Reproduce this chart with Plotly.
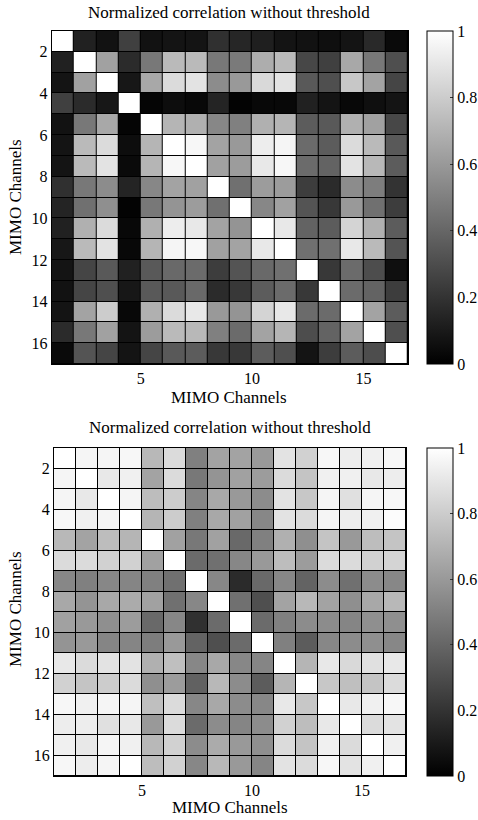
import plotly.graph_objects as go

# ---------------- data ----------------
channels = list(range(1, 17))
x_ticks = [5, 10, 15]
y_ticks = [2, 4, 6, 8, 10, 12, 14, 16]
cbar_ticks = [0, 0.2, 0.4, 0.6, 0.8, 1]
cbar_labels = ["0", "0.2", "0.4", "0.6", "0.8", "1"]
title_text = "Normalized correlation without threshold"
axis_label = "MIMO Channels"

corr_top = [
    [1.00, 0.13, 0.07, 0.25, 0.07, 0.08, 0.08, 0.19, 0.15, 0.12, 0.08, 0.07, 0.06, 0.08, 0.16, 0.04],
    [0.13, 1.00, 0.63, 0.17, 0.47, 0.73, 0.73, 0.47, 0.48, 0.68, 0.73, 0.28, 0.25, 0.66, 0.47, 0.31],
    [0.08, 0.63, 1.00, 0.09, 0.66, 0.86, 0.89, 0.55, 0.60, 0.85, 0.89, 0.35, 0.31, 0.78, 0.64, 0.27],
    [0.25, 0.17, 0.09, 1.00, 0.02, 0.05, 0.03, 0.14, 0.01, 0.03, 0.03, 0.13, 0.08, 0.03, 0.06, 0.08],
    [0.07, 0.47, 0.66, 0.02, 1.00, 0.71, 0.69, 0.53, 0.50, 0.69, 0.71, 0.36, 0.35, 0.69, 0.63, 0.28],
    [0.08, 0.73, 0.86, 0.05, 0.71, 1.00, 0.97, 0.64, 0.60, 0.93, 0.96, 0.42, 0.36, 0.86, 0.73, 0.35],
    [0.08, 0.73, 0.89, 0.04, 0.71, 0.97, 1.00, 0.63, 0.61, 0.91, 0.97, 0.42, 0.39, 0.89, 0.72, 0.36],
    [0.19, 0.47, 0.55, 0.14, 0.53, 0.64, 0.63, 1.00, 0.44, 0.61, 0.61, 0.24, 0.17, 0.55, 0.49, 0.20],
    [0.14, 0.44, 0.56, 0.01, 0.47, 0.58, 0.61, 0.44, 1.00, 0.53, 0.63, 0.33, 0.22, 0.60, 0.44, 0.24],
    [0.13, 0.69, 0.86, 0.03, 0.69, 0.93, 0.91, 0.64, 0.58, 1.00, 0.91, 0.39, 0.36, 0.83, 0.69, 0.36],
    [0.09, 0.73, 0.89, 0.03, 0.71, 0.96, 0.97, 0.63, 0.64, 0.91, 1.00, 0.44, 0.44, 0.91, 0.73, 0.33],
    [0.08, 0.27, 0.35, 0.13, 0.35, 0.41, 0.42, 0.24, 0.33, 0.41, 0.44, 1.00, 0.22, 0.42, 0.30, 0.06],
    [0.07, 0.27, 0.31, 0.09, 0.35, 0.35, 0.41, 0.17, 0.22, 0.36, 0.42, 0.22, 1.00, 0.42, 0.39, 0.24],
    [0.08, 0.64, 0.80, 0.03, 0.69, 0.86, 0.91, 0.60, 0.58, 0.83, 0.91, 0.42, 0.42, 1.00, 0.64, 0.36],
    [0.17, 0.47, 0.63, 0.08, 0.61, 0.73, 0.72, 0.50, 0.42, 0.64, 0.71, 0.30, 0.39, 0.64, 1.00, 0.31],
    [0.04, 0.33, 0.27, 0.08, 0.27, 0.35, 0.36, 0.22, 0.22, 0.36, 0.31, 0.08, 0.24, 0.36, 0.30, 1.00],
]

corr_bottom = [
    [1.00, 0.96, 0.96, 0.97, 0.72, 0.86, 0.50, 0.64, 0.64, 0.60, 0.89, 0.82, 0.97, 0.93, 0.94, 0.97],
    [0.96, 1.00, 0.91, 0.94, 0.64, 0.86, 0.47, 0.58, 0.63, 0.61, 0.86, 0.77, 0.94, 0.94, 0.91, 0.93],
    [0.96, 0.91, 1.00, 0.96, 0.74, 0.80, 0.52, 0.66, 0.60, 0.55, 0.89, 0.78, 0.96, 0.88, 0.96, 0.97],
    [0.97, 0.94, 0.96, 1.00, 0.71, 0.80, 0.50, 0.66, 0.63, 0.53, 0.89, 0.86, 0.96, 0.93, 0.94, 0.99],
    [0.72, 0.64, 0.74, 0.71, 1.00, 0.63, 0.47, 0.63, 0.41, 0.50, 0.69, 0.56, 0.77, 0.60, 0.74, 0.77],
    [0.86, 0.86, 0.82, 0.82, 0.63, 1.00, 0.42, 0.44, 0.53, 0.60, 0.74, 0.61, 0.86, 0.86, 0.82, 0.83],
    [0.53, 0.50, 0.53, 0.52, 0.50, 0.44, 1.00, 0.53, 0.17, 0.41, 0.53, 0.39, 0.55, 0.44, 0.55, 0.53],
    [0.66, 0.58, 0.66, 0.67, 0.63, 0.44, 0.53, 1.00, 0.44, 0.31, 0.64, 0.72, 0.64, 0.56, 0.66, 0.72],
    [0.63, 0.60, 0.56, 0.61, 0.41, 0.53, 0.19, 0.42, 1.00, 0.42, 0.50, 0.55, 0.55, 0.52, 0.56, 0.56],
    [0.58, 0.60, 0.52, 0.52, 0.49, 0.60, 0.39, 0.31, 0.42, 1.00, 0.50, 0.36, 0.53, 0.55, 0.56, 0.53],
    [0.91, 0.86, 0.89, 0.89, 0.69, 0.75, 0.53, 0.66, 0.53, 0.52, 1.00, 0.71, 0.91, 0.85, 0.88, 0.91],
    [0.82, 0.77, 0.80, 0.86, 0.56, 0.61, 0.38, 0.72, 0.55, 0.36, 0.71, 1.00, 0.78, 0.75, 0.77, 0.86],
    [0.97, 0.94, 0.96, 0.96, 0.75, 0.86, 0.53, 0.66, 0.55, 0.53, 0.91, 0.78, 1.00, 0.91, 0.94, 0.97],
    [0.93, 0.93, 0.88, 0.91, 0.60, 0.86, 0.42, 0.55, 0.52, 0.55, 0.82, 0.74, 0.91, 1.00, 0.86, 0.89],
    [0.94, 0.91, 0.96, 0.94, 0.72, 0.82, 0.55, 0.67, 0.60, 0.56, 0.86, 0.77, 0.94, 0.86, 1.00, 0.94],
    [0.97, 0.93, 0.96, 1.00, 0.74, 0.82, 0.53, 0.72, 0.60, 0.52, 0.89, 0.86, 0.97, 0.89, 0.94, 1.00],
]

# ---------------- figure ----------------
W, H = 478, 820
FONT = "Liberation Serif, Times New Roman, serif"
TICK_SIZE = 16
LABEL_SIZE = 17
TITLE_SIZE = 17

def px(x):
    return x / W

def py(y):
    return 1 - y / H

# cells drawn like pcolor: cell i spans [i, i+1]
centers = [c + 0.5 for c in channels]

def cbar(top, bottom):
    return dict(
        x=px(427), xanchor="left", xref="paper",
        y=py((top + bottom) / 2), yanchor="middle", yref="paper",
        len=(bottom - top) / H, lenmode="fraction",
        thickness=26, thicknessmode="pixels",
        outlinewidth=1, outlinecolor="black",
        tickmode="array", tickvals=cbar_ticks, ticktext=cbar_labels,
        ticks="inside", ticklen=3, tickcolor="#333333",
        tickfont=dict(family=FONT, size=TICK_SIZE, color="black"),
        xpad=0, ypad=0,
    )

gray = [[0, "black"], [1, "white"]]

fig = go.Figure()
fig.add_trace(go.Heatmap(
    z=corr_top, x=centers, y=centers, xaxis="x", yaxis="y",
    colorscale=gray, zmin=0, zmax=1, xgap=1, ygap=1,
    colorbar=cbar(31, 364),
))
fig.add_trace(go.Heatmap(
    z=corr_bottom, x=centers, y=centers, xaxis="x2", yaxis="y2",
    colorscale=gray, zmin=0, zmax=1, xgap=1, ygap=1,
    colorbar=cbar(448, 776),
))

def xax(dom, anchor):
    return dict(domain=dom, anchor=anchor, range=[1, 17], tickmode="array",
                tickvals=x_ticks, ticks="", showgrid=False, zeroline=False,
                showline=True, mirror=True, linecolor="black", linewidth=1,
                tickfont=dict(family=FONT, size=TICK_SIZE, color="black"))

def yax(dom, anchor):
    return dict(domain=dom, anchor=anchor, range=[17, 1], tickmode="array",
                tickvals=y_ticks, ticks="", showgrid=False, zeroline=False,
                showline=True, mirror=True, linecolor="black", linewidth=1,
                tickfont=dict(family=FONT, size=TICK_SIZE, color="black"))

annotations = []
for t_y, xl_y, yl_y, cx in [(12, 397, 197, 229), (427, 807, 609, 230)]:
    annotations.append(dict(text=title_text, x=px(cx), y=py(t_y), xref="paper", yref="paper",
                            showarrow=False, xanchor="center", yanchor="middle",
                            font=dict(family=FONT, size=TITLE_SIZE, color="black")))
    annotations.append(dict(text=axis_label, x=px(cx), y=py(xl_y), xref="paper", yref="paper",
                            showarrow=False, xanchor="center", yanchor="middle",
                            font=dict(family=FONT, size=LABEL_SIZE, color="black")))
    annotations.append(dict(text=axis_label, x=px(15), y=py(yl_y), xref="paper", yref="paper",
                            showarrow=False, xanchor="center", yanchor="middle", textangle=-90,
                            font=dict(family=FONT, size=LABEL_SIZE, color="black")))

fig.update_layout(
    width=W, height=H,
    margin=dict(l=0, r=0, t=0, b=0, autoexpand=False),
    paper_bgcolor="white", plot_bgcolor="black",
    font=dict(family=FONT, color="black"),
    xaxis=xax([px(51.7), px(408)], "y"),
    yaxis=yax([py(364), py(31)], "x"),
    xaxis2=xax([px(54), px(406)], "y2"),
    yaxis2=yax([py(776), py(448)], "x2"),
    annotations=annotations,
    showlegend=False,
)

fig.write_html("out.html",
               config={"displayModeBar": False},
               post_script="document.body.style.margin='0';document.body.style.overflow='hidden';")
